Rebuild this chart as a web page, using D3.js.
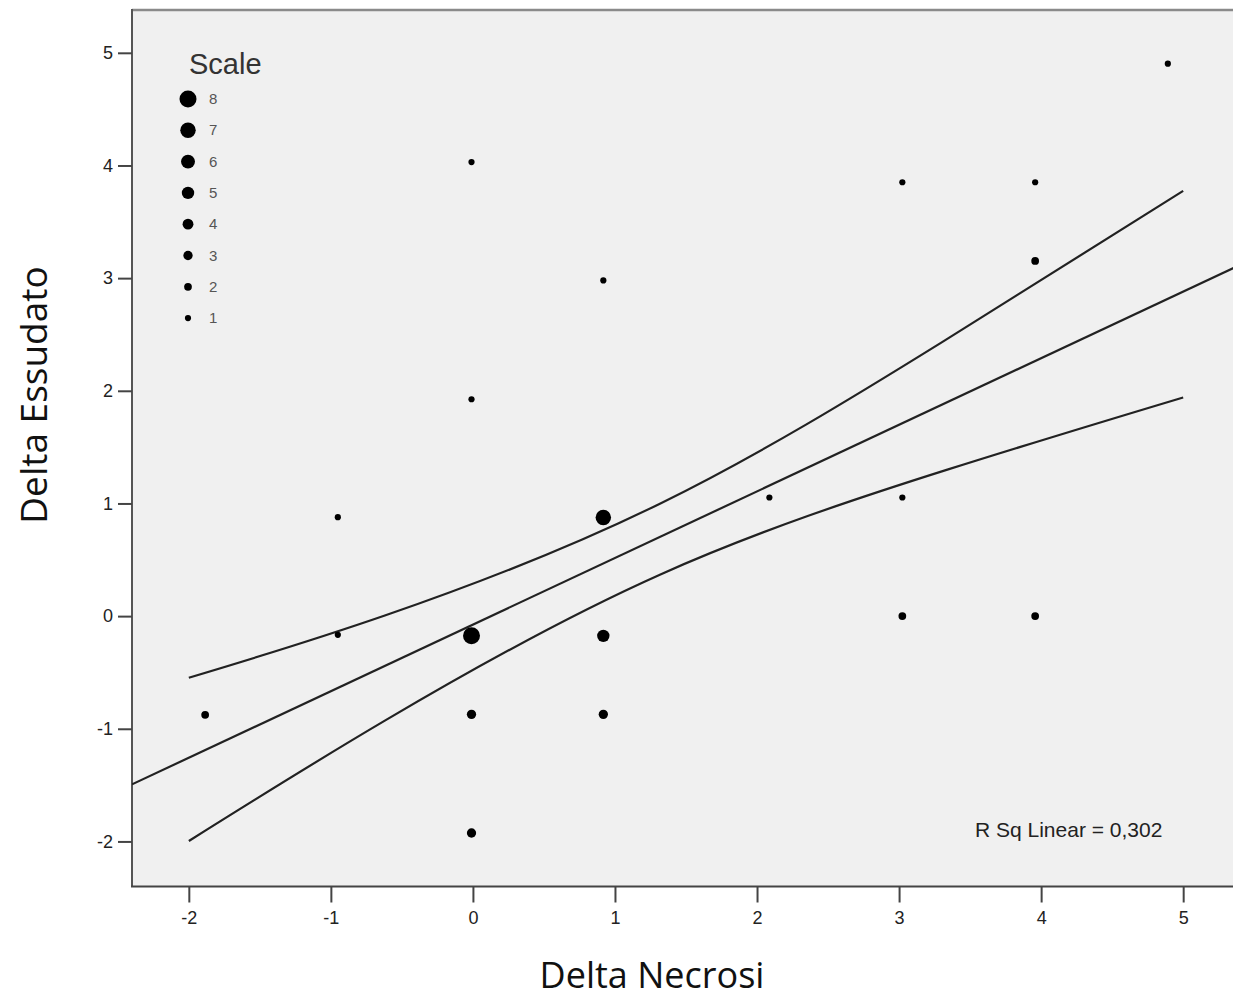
<!DOCTYPE html>
<html>
<head>
<meta charset="utf-8">
<script src="https://cdn.jsdelivr.net/npm/d3@7"></script>
<style>
  body { margin: 0; background: #fff; }
  svg { display: block; }
</style>
</head>
<body>
<div id="chart"></div>
<script>
// points: x = Delta Necrosi, y = Delta Essudato, count = bubble scale
const necrosi = [-1.885, -0.951, -0.951, -0.01, -0.01, -0.01, -0.01, -0.01, 0.918, 0.918, 0.918, 0.918, 2.087, 3.023, 3.023, 3.023, 3.958, 3.958, 3.958, 4.892]
const essudato = [-0.876, 0.878, -0.166, 4.03, 1.925, -0.175, -0.872, -1.925, 2.98, 0.876, -0.175, -0.872, 1.053, 3.851, 1.053, 0, 3.851, 3.153, 0, 4.904]
const counts = [2, 1, 1, 1, 1, 8, 3, 3, 1, 7, 5, 3, 1, 1, 1, 2, 1, 2, 2, 1]

// fit line
const fitIntercept = -0.075
const fitSlope = 0.591

// confidence band, read at a few x positions
const upperX = [-2, -0.62, 1.32, 3.3, 5]
const upperY = [-0.547, 0.005, 1.0, 2.43, 3.774]
const lowerX = [-2, -0.62, 1.32, 3.34, 5]
const lowerY = [-1.996, -0.928, 0.37, 1.3, 1.941]

const xTicks = [-2, -1, 0, 1, 2, 3, 4, 5]
const yTicks = [-2, -1, 0, 1, 2, 3, 4, 5]
const legendSizes = [8, 7, 6, 5, 4, 3, 2, 1]
const rSqLabel = 'R Sq Linear = 0,302'

const width = 1233
const height = 1002

const svg = d3
  .select('#chart')
  .append('svg')
  .attr('width', width)
  .attr('height', height)

const x = d3.scaleLinear().domain([-2.4, 5.4]).range([132, 1240])
const y = d3.scaleLinear().domain([-2.4, 5.38]).range([886.5, 10])
const r = d3.scaleLinear().domain([1, 8]).range([3.1, 8.5])

const plotLeft = x.range()[0]
const plotTop = y.range()[1]
const plotBottom = y.range()[0]

const defs = svg.append('defs')
defs.append('clipPath')
  .attr('id', 'plot-clip')
  .append('rect')
  .attr('x', plotLeft)
  .attr('y', plotTop)
  .attr('width', width - plotLeft)
  .attr('height', plotBottom - plotTop)

// the x tick labels are only half visible in the original
defs.append('clipPath')
  .attr('id', 'tick-clip')
  .append('rect')
  .attr('x', 0)
  .attr('y', 0)
  .attr('width', width)
  .attr('height', 924)

// plot background
svg.append('rect')
  .attr('x', plotLeft)
  .attr('y', plotTop)
  .attr('width', width - plotLeft)
  .attr('height', plotBottom - plotTop)
  .attr('fill', '#f0f0f0')

// frame
svg.append('line')
  .attr('x1', plotLeft).attr('x2', width)
  .attr('y1', plotTop).attr('y2', plotTop)
  .attr('stroke', '#8a8a8a').attr('stroke-width', 2.5)

svg.append('line')
  .attr('x1', plotLeft).attr('x2', plotLeft)
  .attr('y1', plotTop - 1).attr('y2', plotBottom)
  .attr('stroke', '#555').attr('stroke-width', 2)

svg.append('line')
  .attr('x1', plotLeft - 1).attr('x2', width)
  .attr('y1', plotBottom).attr('y2', plotBottom)
  .attr('stroke', '#444').attr('stroke-width', 2)

const fmt = d => String(d)

// y axis
const yAxis = d3.axisLeft(y).tickValues(yTicks).tickSize(14).tickPadding(5).tickFormat(fmt)
const yG = svg.append('g')
  .attr('transform', 'translate(' + plotLeft + ',0)')
  .call(yAxis)
yG.select('.domain').remove()
yG.selectAll('.tick line').attr('stroke', '#444').attr('stroke-width', 2)
yG.selectAll('.tick text')
  .attr('font-family', 'Liberation Sans, Arial, sans-serif')
  .attr('font-size', 18)
  .attr('fill', '#222')

// x axis
const xAxis = d3.axisBottom(x).tickValues(xTicks).tickSize(16).tickPadding(9).tickFormat(fmt)
const xWrap = svg.append('g').attr('clip-path', 'url(#tick-clip)')
const xG = xWrap.append('g')
  .attr('transform', 'translate(0,' + plotBottom + ')')
  .call(xAxis)
xG.select('.domain').remove()
xG.selectAll('.tick line').attr('stroke', '#444').attr('stroke-width', 2)
xG.selectAll('.tick text')
  .attr('font-family', 'Liberation Sans, Arial, sans-serif')
  .attr('font-size', 18)
  .attr('fill', '#222')

const plot = svg.append('g').attr('clip-path', 'url(#plot-clip)')

// fit line
const fitData = x.domain().map(v => ({ x: v, y: fitIntercept + fitSlope * v }))
const line = d3.line().x(d => x(d.x)).y(d => y(d.y))

plot.append('path')
  .datum(fitData)
  .attr('d', line)
  .attr('fill', 'none')
  .attr('stroke', '#222')
  .attr('stroke-width', 2.2)

const bandLine = d3.line().x(d => x(d.x)).y(d => y(d.y)).curve(d3.curveNatural)

plot.append('path')
  .datum(upperX.map((v, i) => ({ x: v, y: upperY[i] })))
  .attr('d', bandLine)
  .attr('fill', 'none')
  .attr('stroke', '#222')
  .attr('stroke-width', 2.2)

plot.append('path')
  .datum(lowerX.map((v, i) => ({ x: v, y: lowerY[i] })))
  .attr('d', bandLine)
  .attr('fill', 'none')
  .attr('stroke', '#222')
  .attr('stroke-width', 2.2)

// points
const points = necrosi.map((v, i) => ({ x: v, y: essudato[i], n: counts[i] }))
plot.selectAll('circle.pt')
  .data(points)
  .enter()
  .append('circle')
  .attr('class', 'pt')
  .attr('cx', d => x(d.x))
  .attr('cy', d => y(d.y))
  .attr('r', d => r(d.n))
  .attr('fill', '#000')

// legend
const legend = svg.append('g').attr('transform', 'translate(188,0)')
legend.append('text')
  .attr('x', 1)
  .attr('y', 74)
  .attr('font-family', 'Liberation Sans, Arial, sans-serif')
  .attr('font-size', 29)
  .attr('fill', '#333')
  .text('Scale')

legend.selectAll('g.item')
  .data(legendSizes)
  .enter()
  .append('g')
  .attr('class', 'item')
  .attr('transform', (d, i) => 'translate(0,' + (99 + i * 31.3) + ')')
  .each(function(d) {
    const g = d3.select(this)
    g.append('circle').attr('r', r(d)).attr('fill', '#000')
    g.append('text')
      .attr('x', 21)
      .attr('y', 5)
      .attr('font-family', 'Liberation Sans, Arial, sans-serif')
      .attr('font-size', 15)
      .attr('fill', '#555')
      .text(d)
  })

// R squared note
svg.append('text')
  .attr('x', 975)
  .attr('y', 837)
  .attr('font-family', 'Liberation Sans, Arial, sans-serif')
  .attr('font-size', 21)
  .attr('fill', '#222')
  .text(rSqLabel)

// axis titles
svg.append('text')
  .attr('x', 652)
  .attr('y', 988)
  .attr('text-anchor', 'middle')
  .attr('font-family', 'Open Sans, Noto Sans, sans-serif')
  .attr('font-size', 36)
  .attr('fill', '#111')
  .text('Delta Necrosi')

svg.append('text')
  .attr('transform', 'translate(47,395) rotate(-90)')
  .attr('text-anchor', 'middle')
  .attr('font-family', 'Open Sans, Noto Sans, sans-serif')
  .attr('font-size', 37)
  .attr('fill', '#111')
  .text('Delta Essudato')
</script>
</body>
</html>
